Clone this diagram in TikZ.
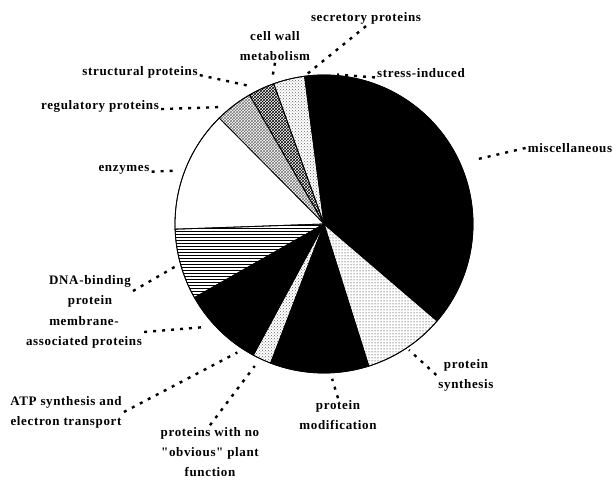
\documentclass[tikz,border=0pt]{standalone}
\usepackage{fontspec}
\newfontfamily\lblfont[LetterSpace=5]{Liberation Serif}
\usetikzlibrary{patterns}

\tikzset{
  lbl/.style={font=\lblfont\bfseries\fontsize{13}{20}\selectfont, align=center, inner sep=2pt},
  leader/.style={line width=2.4pt, dash pattern=on 3pt off 6pt},
  wedge/.style={draw=black, line width=0.8pt},
  blackwedge/.style={wedge, fill=black},
  whitewedge/.style={wedge, fill=white},
  stipwedge/.style={wedge, pattern=dots},
  lightstipwedge/.style={wedge, pattern=crosshatch dots, pattern color=black!60},
  hatchwedge/.style={wedge, pattern=crosshatch},
  lighthatchwedge/.style={wedge, pattern=crosshatch, pattern color=black!55},
  stripewedge/.style={wedge, pattern=horizontal lines}
}

\begin{document}
\begin{tikzpicture}[x=1pt, y=1pt]
    \useasboundingbox (0,0) rectangle (614,484);
    \coordinate (c) at (324,260);

    % Pie slices
    \foreach \a/\b/\st in {-40.6/97.5/blackwedge, 97.5/109.7/lightstipwedge, 109.7/120/hatchwedge,
        120/134.7/lighthatchwedge, 134.7/182/whitewedge, 182/209.6/stripewedge,
        209.6/226/blackwedge, 226/241.7/blackwedge, 241.7/249/lightstipwedge,
        249/287.5/blackwedge, 287.5/319.4/stipwedge} {
        \draw[\st] (c) -- ([shift={(\a:149)}]c) arc[start angle=\a, end angle=\b, radius=149] -- cycle;
    }
    \draw[line width=0.8pt] (c) circle (149);

    % Labels
    \node[lbl] (secr) at (366,466) {secretory proteins};
    \node[lbl] (cell) at (275,438) {cell wall\\metabolism};
    \node[lbl] (struct) at (140,412) {structural proteins};
    \node[lbl] (reg) at (100,378) {regulatory proteins};
    \node[lbl] (stress) at (421,411) {stress-induced};
    \node[lbl] (misc) at (570,336) {miscellaneous};
    \node[lbl] (enz) at (124,314) {enzymes};
    \node[lbl] (dna) at (90,193) {DNA-binding\\protein};
    \node[lbl] (memb) at (84,152) {membrane-\\associated proteins};
    \node[lbl] (atp) at (66,72) {ATP synthesis and\\electron transport};
    \node[lbl] (nofn) at (210,32) {proteins with no\\"obvious" plant\\function};
    \node[lbl] (mod) at (338,69) {protein\\modification};
    \node[lbl] (syn) at (466,109) {protein\\synthesis};

    % Points at the rim
    \foreach \nm/\ang/\rad in {misc/23/165, stress/85/150, secr/97/150, cell/109.5/155,
        struct/118/156, reg/131/155, enz/160/156, dna/196/155, memb/221/157,
        atp/236/155, nofn/244/158, mod/273/155, syn/304/152} {
        \coordinate (r-\nm) at ([shift={(\ang:\rad)}]c);
    }

    % Leaders
    \foreach \nm/\anc in {misc/west, stress/base west, secr/south, cell/south,
        struct/base east, reg/base east, enz/base east, dna/east, memb/east,
        atp/east, nofn/north, mod/north, syn/west} {
        \draw[leader] (\nm.\anc) -- (r-\nm);
    }
\end{tikzpicture}
\end{document}
